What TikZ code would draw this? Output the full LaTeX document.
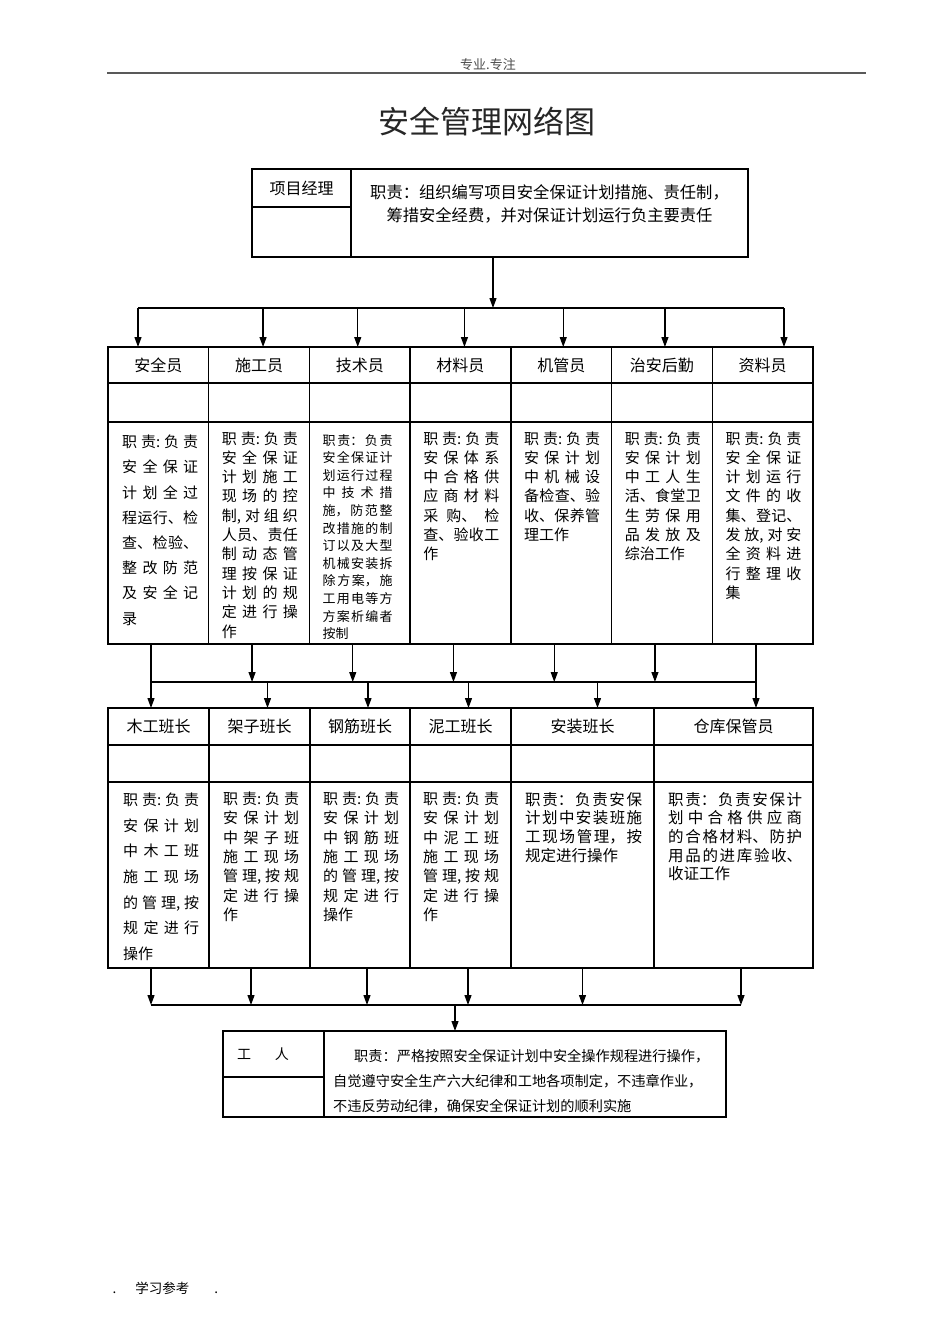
\documentclass[tikz,border=0pt]{standalone}
\usepackage{fontspec}
\setmainfont{Noto Sans CJK SC}
\usetikzlibrary{arrows.meta,positioning}
\XeTeXlinebreaklocale "zh"
\XeTeXlinebreakskip=0pt
\tolerance=9999
\setlength{\parindent}{0pt}
\newcommand{\fz}[2]{\fontsize{#1}{#2}\selectfont}

\begin{document}
\begin{tikzpicture}[
    x=1pt, y=-1pt,
    cell/.style={draw, line width=1.3pt, outer sep=0pt, inner sep=0pt},
    hd/.style={cell, font=\fz{16}{20}},
    duty/.style={inner sep=0pt, anchor=north west, text width=76pt, align=justify, font=\fz{15}{19.3},
        execute at begin node={\XeTeXlinebreakskip=0pt plus 20pt\relax}},
    arr/.style={-{Triangle[length=10pt,width=7pt]}, line width=1.2pt},
    bus/.style={line width=1.2pt}
]
\fill[white] (0,0) rectangle (950,1344);

% Page head and title
\node[font=\fz{13}{15}, text=black!70] (head) at (488,65) {专业.专注};
\draw[line width=1.8pt, black!65] (107,73) -- (866,73);
\node[font=\fz{31}{36}, text=black!85] (title) at (487,122) {安全管理网络图};

% Top: project manager
\node[hd, minimum width=99, minimum height=38, anchor=north west] (pm) at (252,169) {项目经理};
\node[cell, minimum width=99, minimum height=50, below=0pt of pm] (pm-b) {};
\node[cell, minimum width=397, minimum height=88, anchor=north west] (pm-t) at (pm.north east) {};
\node[inner sep=0pt, anchor=north, text width=390, align=center, font=\fz{16.3}{23}] (pm-x) at ([yshift=-15.6]pm-t.north) {职责：组织编写项目安全保证计划措施、责任制，\\筹措安全经费，并对保证计划运行负主要责任};

% Row 1: staff
\foreach \nm/\xx/\lbl in {aqy/108/安全员, sgy/208.7/施工员, jsy/309.4/技术员, cly/410.1/材料员, jgy/510.9/机管员, zahq/611.6/治安后勤, zly/712.3/资料员} {
    \node[hd, minimum width=100.7, minimum height=36, anchor=north west] (\nm) at (\xx,347) {\lbl};
    \node[cell, minimum width=100.7, minimum height=39, below=0pt of \nm] (\nm-b) {};
    \node[cell, minimum width=100.7, minimum height=222, below=0pt of \nm-b] (\nm-t) {};
}
\node[duty, font=\fz{15}{25.2}] (aqy-x) at ([xshift=14, yshift=-12.9]aqy-t.north west) {职责:负责\linebreak 安全保证\linebreak 计划全过\linebreak 程运行、检\linebreak 查、检验、\linebreak 整改防范\linebreak 及安全记\linebreak 录};
\node[duty] (sgy-x) at ([xshift=13, yshift=-9.2]sgy-t.north west) {职责:负责\linebreak 安全保证\linebreak 计划施工\linebreak 现场的控\linebreak 制,对组织\linebreak 人员、责任\linebreak 制动态管\linebreak 理按保证\linebreak 计划的规\linebreak 定进行操\linebreak 作};
\node[duty, text width=70pt, font=\fz{13}{17.6}] (jsy-x) at ([xshift=13, yshift=-12]jsy-t.north west) {职责：负责\linebreak 安全保证计\linebreak 划运行过程\linebreak 中技术措\linebreak 施，防范整\linebreak 改措施的制\linebreak 订以及大型\linebreak 机械安装拆\linebreak 除方案，施\linebreak 工用电等方\linebreak 方案析编者\linebreak 按制};
\node[duty] (cly-x) at ([xshift=13, yshift=-9.2]cly-t.north west) {职责:负责\linebreak 安保体系\linebreak 中合格供\linebreak 应商材料\linebreak 采购、检\linebreak 查、验收工\linebreak 作};
\node[duty] (jgy-x) at ([xshift=13, yshift=-9.2]jgy-t.north west) {职责:负责\linebreak 安保计划\linebreak 中机械设\linebreak 备检查、验\linebreak 收、保养管\linebreak 理工作};
\node[duty] (zahq-x) at ([xshift=13, yshift=-9.2]zahq-t.north west) {职责:负责\linebreak 安保计划\linebreak 中工人生\linebreak 活、食堂卫\linebreak 生劳保用\linebreak 品发放及\linebreak 综治工作};
\node[duty] (zly-x) at ([xshift=13, yshift=-9.2]zly-t.north west) {职责:负责\linebreak 安全保证\linebreak 计划运行\linebreak 文件的收\linebreak 集、登记、\linebreak 发放,对安\linebreak 全资料进\linebreak 行整理收\linebreak 集};

% Row 2: team leaders
\foreach \nm/\xx/\ww/\lbl in {mg/108/101/木工班长, jz/209/101/架子班长, gj/310/100/钢筋班长, ng/410/101/泥工班长, az/511/143/安装班长, ck/654/159/仓库保管员} {
    \node[hd, minimum width=\ww, minimum height=37, anchor=north west] (\nm) at (\xx,708) {\lbl};
    \node[cell, minimum width=\ww, minimum height=37, below=0pt of \nm] (\nm-b) {};
    \node[cell, minimum width=\ww, minimum height=186, below=0pt of \nm-b] (\nm-t) {};
}
\draw[line width=2.4pt] (mg-t.south west) -- (ck-t.south east);
\node[duty, font=\fz{15}{25.6}] (mg-x) at ([xshift=15, yshift=-10.9]mg-t.north west) {职责:负责\linebreak 安保计划\linebreak 中木工班\linebreak 施工现场\linebreak 的管理,按\linebreak 规定进行\linebreak 操作};
\node[duty, font=\fz{15}{19.4}] (jz-x) at ([xshift=14, yshift=-9.4]jz-t.north west) {职责:负责\linebreak 安保计划\linebreak 中架子班\linebreak 施工现场\linebreak 管理,按规\linebreak 定进行操\linebreak 作};
\node[duty, font=\fz{15}{19.4}] (gj-x) at ([xshift=13, yshift=-9.4]gj-t.north west) {职责:负责\linebreak 安保计划\linebreak 中钢筋班\linebreak 施工现场\linebreak 的管理,按\linebreak 规定进行\linebreak 操作};
\node[duty, font=\fz{15}{19.4}] (ng-x) at ([xshift=13, yshift=-9.4]ng-t.north west) {职责:负责\linebreak 安保计划\linebreak 中泥工班\linebreak 施工现场\linebreak 管理,按规\linebreak 定进行操\linebreak 作};
\node[duty, text width=117pt, font=\fz{15.5}{18.7}] (az-x) at ([xshift=14, yshift=-9.9]az-t.north west) {职责：负责安保\linebreak 计划中安装班施\linebreak 工现场管理，按\linebreak 规定进行操作};
\node[duty, text width=134pt, font=\fz{15.5}{18.7}] (ck-x) at ([xshift=14, yshift=-9.9]ck-t.north west) {职责：负责安保计\linebreak 划中合格供应商\linebreak 的合格材料、防护\linebreak 用品的进库验收、\linebreak 收证工作};

% Bottom: workers
\node[hd, minimum width=101, minimum height=46, anchor=north west, text width=73, align=left, inner xsep=14, font=\fz{14}{18}] (wk) at (223,1031) {工\hspace{24pt}人};
\node[cell, minimum width=101, minimum height=40, below=0pt of wk] (wk-b) {};
\node[cell, minimum width=402, minimum height=86, anchor=north west] (wk-t) at (wk.north east) {};
\node[inner sep=0pt, anchor=north west, text width=385, align=left, font=\fz{14.2}{25}] (wk-x) at ([xshift=9, yshift=-18.5]wk-t.north west) {\hspace*{21pt}职责：严格按照安全保证计划中安全操作规程进行操作，\\自觉遵守安全生产六大纪律和工地各项制定，不违章作业，\\不违反劳动纪律，确保安全保证计划的顺利实施};

% Connections
\coordinate (b1) at (493,308);
\coordinate (b1l) at (138,308);
\coordinate (b1r) at (784,308);
\draw[arr] (pm-t.south -| b1) -- (b1);
\draw[bus] (b1l) -- (b1r);
\draw[arr] (b1l) -- (b1l |- aqy.north);
\draw[arr] (b1r) -- (b1r |- zly.north);
\foreach \nm/\dx in {sgy/4, jsy/-2, cly/4, jgy/2, zahq/3} {
    \coordinate (\nm-in) at ([xshift=\dx]\nm.north);
    \draw[arr] (\nm-in |- b1l) -- (\nm-in);
}

\coordinate (b2l) at (151,682);
\coordinate (b2r) at (756,682);
\draw[bus] (b2l) -- (b2r);
\draw[arr] (aqy-t.south -| b2l) -- (b2l |- mg.north);
\draw[arr] (zly-t.south -| b2r) -- (b2r |- ck.north);
\foreach \nm in {sgy, jsy, cly, jgy, zahq} {
    \coordinate (\nm-out) at ([xshift=-7]\nm-t.south);
    \draw[arr] (\nm-out) -- (\nm-out |- b2l);
}
\foreach \nm/\dx in {jz/8, gj/8, ng/8, az/15} {
    \coordinate (\nm-in) at ([xshift=\dx]\nm.north);
    \draw[arr] (\nm-in |- b2l) -- (\nm-in);
}

\coordinate (b3l) at (151,1005);
\coordinate (b3r) at (741,1005);
\coordinate (b3) at (455,1005);
\draw[bus] (b3l) -- (b3r);
\foreach \nm/\dx in {mg/-7.5, jz/-8.5, gj/7, ng/7.5, az/0, ck/7.5} {
    \coordinate (\nm-out) at ([xshift=\dx]\nm-t.south);
    \draw[arr] (\nm-out) -- (\nm-out |- b3l);
}
\draw[arr] (b3) -- (b3 |- wk.north);

% Page foot
\node[font=\fz{13.5}{15}, anchor=west] (foot) at (109,1288) {.\hspace{19pt}学习参考\hspace{25pt}.};

\end{tikzpicture}
\end{document}
